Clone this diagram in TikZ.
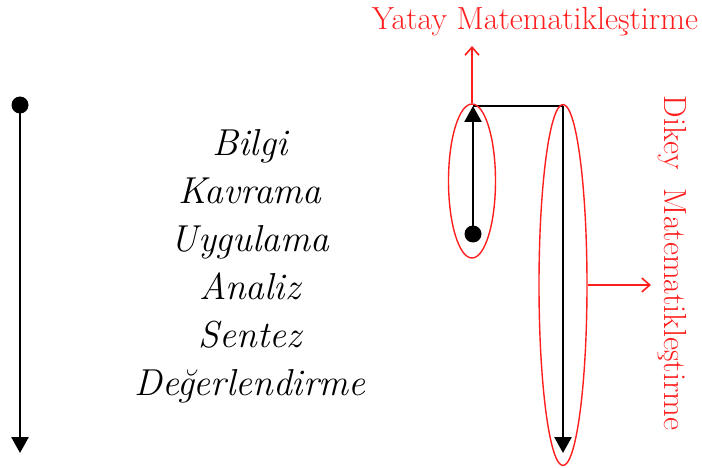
\documentclass[tikz,border=0pt]{standalone}
\usetikzlibrary{arrows.meta,shapes.geometric}
\definecolor{mathred}{RGB}{255,30,30}

\begin{document}
\begin{tikzpicture}[x=1pt,y=-1pt,
  level/.style={font=\fontsize{37.5}{48}\selectfont\itshape, align=center},
  redlabel/.style={text=mathred, font=\fontsize{32}{36}\selectfont, inner sep=0pt},
  loop/.style={ellipse, draw=mathred, line width=1.4pt, inner sep=0pt},
  flow/.style={line width=2.6pt, -{Triangle[width=17pt,length=16pt]}},
  redarrow/.style={mathred, line width=1.6pt, -{Straight Barb[width=14pt,length=8pt,line width=1.6pt]}},
  dot/.style={circle, fill=black, inner sep=0pt, minimum size=17pt}
]
\useasboundingbox (0,0) rectangle (702,468);

% sol taraf: basamaklar
\node[dot] (top) at (20,105) {};
\coordinate (bottom) at (20,453);
\draw[flow] (top.center) -- (bottom);
\node[level] (levels) at (250,266) {Bilgi\\Kavrama\\Uygulama\\Analiz\\Sentez\\Değerlendirme};

% sag taraf
\node[dot] (start) at (473,234) {};
\coordinate (corner1) at (473,106);
\coordinate (corner2) at (563,106);
\coordinate (end) at (563,453);
\draw[flow] (start.center) -- (corner1);
\draw[line width=2.6pt] (corner1) -- (corner2);
\draw[flow] (corner2) -- (end);

\node[loop, minimum width=47pt, minimum height=154pt] (small) at (472,181) {};
\node[loop, minimum width=48pt, minimum height=361pt] (big) at (563,285) {};

\node[redlabel] (yatay) at (535,22) {Yatay Matematikleştirme};
\node[redlabel, rotate=-90] (dikey) at (672,263) {Dikey\ \ Matematikleştirme};

\coordinate (upend) at (472,46);
\coordinate (rightend) at (651,285);
\draw[redarrow] (small.north) -- (upend);
\draw[redarrow] (big.east) -- (rightend);
\end{tikzpicture}
\end{document}
